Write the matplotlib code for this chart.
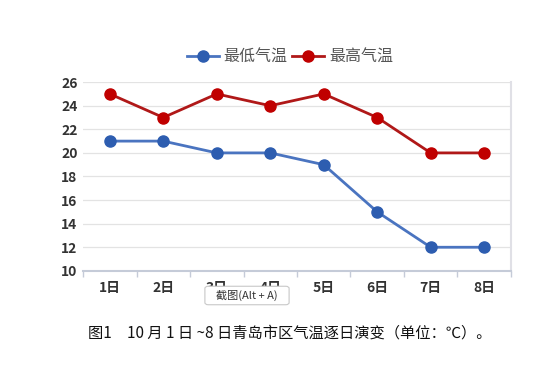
import matplotlib.pyplot as plt
from matplotlib.patches import FancyBboxPatch

plt.rcParams["font.family"] = ["Noto Sans CJK SC", "DejaVu Sans"]

days = ["1日", "2日", "3日", "4日", "5日", "6日", "7日", "8日"]
low_temp = [21, 21, 20, 20, 19, 15, 12, 12]
high_temp = [25, 23, 25, 24, 25, 23, 20, 20]
y_ticks = [10, 12, 14, 16, 18, 20, 22, 24, 26]

fig = plt.figure(figsize=(5.5, 3.7), dpi=100)
ax = fig.add_axes([0.151, 0.268, 0.778, 0.510])

x = list(range(len(days)))
ax.plot(x, low_temp, color="#4a74c0", lw=2.0, marker="o", markersize=8,
        markerfacecolor="#2d5db0", markeredgecolor="#2d5db0", label="最低气温", zorder=3)
ax.plot(x, high_temp, color="#b01818", lw=2.0, marker="o", markersize=8,
        markerfacecolor="#c00000", markeredgecolor="#c00000", label="最高气温", zorder=3)

ax.set_xlim(-0.5, len(days) - 0.5)
ax.set_ylim(10, 26)
ax.set_yticks(y_ticks)
ax.set_xticks(x)
ax.set_xticklabels(days)
ax.set_xticks([i + 0.5 for i in range(-1, len(days))], minor=True)
ax.grid(axis="y", color="#e3e3e3", lw=0.9)
ax.set_axisbelow(True)
for side in ["top", "left"]:
    ax.spines[side].set_visible(False)
ax.spines["right"].set_color("#e0e0e6")
ax.spines["right"].set_linewidth(1.5)
ax.spines["bottom"].set_color("#c5cbd8")
ax.spines["bottom"].set_linewidth(1.5)
ax.tick_params(axis="y", length=0, labelsize=10, labelcolor="#333333", pad=4)
ax.tick_params(axis="x", which="major", length=0, labelsize=10, labelcolor="#333333", pad=7)
ax.tick_params(axis="x", which="minor", length=4, color="#c5cbd8", width=1)
for lab in ax.get_xticklabels() + ax.get_yticklabels():
    lab.set_fontweight("bold")

leg = fig.legend(loc="center", bbox_to_anchor=(0.527, 0.845), ncol=2, frameon=False,
                 fontsize=11.5, handlelength=2.0, handletextpad=0.3, columnspacing=0.3,
                 labelcolor="#555555")
for t in leg.get_texts():
    t.set_fontweight("medium")

# screenshot tooltip
box = FancyBboxPatch((206 / 550, 1 - 304 / 370), 82 / 550, 17 / 370,
                     boxstyle="round,pad=0.002,rounding_size=0.006",
                     transform=fig.transFigure, facecolor="white",
                     edgecolor="#c8c8c8", lw=0.8, zorder=10)
fig.patches.append(box)
fig.text(247 / 550, 1 - 295.5 / 370, "截图(Alt + A)", ha="center", va="center",
         fontsize=8, color="#333333", zorder=11)

fig.text(0.527, 1 - 333 / 370, "图1　10 月 1 日 ~8 日青岛市区气温逐日演变（单位：℃）。",
         ha="center", va="center", fontsize=11, color="#111111")

fig.savefig("out.png", dpi=100)
